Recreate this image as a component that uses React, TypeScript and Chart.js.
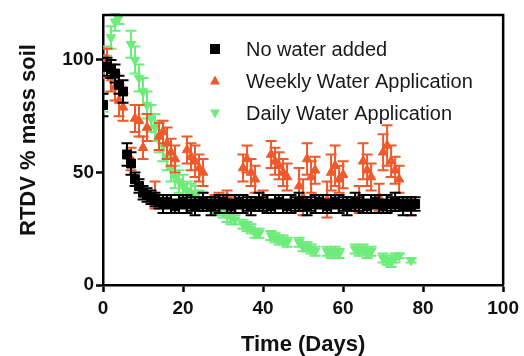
import React, { useEffect, useRef } from 'react';
import { Chart, registerables } from 'chart.js';

Chart.register(...registerables);

// ---------- data ----------
const noWaterDays = [
  0, 1, 2, 3, 4, 5, 6, 7, 8, 9, 10, 11, 12, 13, 14, 15, 16, 17, 18, 19,
  20, 21, 22, 23, 24, 25, 26, 27, 28, 29, 30, 31, 32, 33, 34, 35, 36, 37, 38, 39,
  40, 41, 42, 43, 44, 45, 46, 47, 48, 49, 50, 51, 52, 53, 54, 55, 56, 57, 58, 59,
  60, 61, 62, 63, 64, 65, 66, 67, 68, 69, 70, 71, 72, 73, 74, 75, 76, 77, 78,
];
const noWaterValues = [
  80, 97, 96, 94, 89, 86, 58, 54, 47, 44, 41, 40, 39, 38, 37, 36, 37, 36, 35, 36,
  37, 36, 36, 35, 36, 37, 36, 35, 36, 36, 37, 36, 35, 36, 37, 36, 36, 35, 36, 37,
  36, 36, 35, 36, 37, 36, 35, 36, 36, 37, 36, 35, 36, 36, 37, 36, 35, 36, 37, 36,
  36, 35, 36, 37, 36, 36, 35, 36, 37, 36, 35, 36, 36, 37, 36, 35, 36, 35, 36,
];
const noWaterErrors = [
  5, 4, 4, 4, 4, 5, 5, 5, 3, 3, 3, 3, 3, 3, 3, 4, 3, 4, 3, 4,
  3, 4, 3, 4, 3, 4, 3, 4, 3, 4, 3, 4, 3, 4, 3, 4, 3, 4, 3, 4,
  3, 4, 3, 4, 3, 4, 3, 4, 3, 4, 3, 4, 3, 4, 3, 4, 3, 4, 3, 4,
  3, 4, 3, 4, 3, 4, 3, 4, 3, 4, 3, 4, 3, 4, 3, 4, 3, 4, 3,
];

const weeklyDays = [
  0, 1, 2, 3, 4, 5, 7, 8, 9, 10, 11, 13, 14, 15, 16, 17, 18, 21, 22, 23, 24, 25,
  28, 29, 30, 31, 32, 35, 36, 37, 38, 40, 42, 43, 44, 45, 46, 49, 50, 51, 52, 53,
  56, 57, 58, 59, 60, 64, 65, 66, 67, 69, 70, 71, 72, 73, 74, 77,
];
const weeklyValues = [
  97, 100, 92, 88, 82, 79, 56, 74, 73, 61, 70, 40, 66, 68, 63, 59, 56, 60, 57, 55, 52, 50,
  37, 38, 37, 39, 36, 52, 56, 50, 47, 38, 58, 55, 53, 50, 48, 44, 39, 56, 48, 51,
  38, 50, 53, 47, 49, 38, 55, 51, 48, 39, 59, 62, 55, 51, 47, 35,
];
const weeklyErrors = [
  5, 5, 6, 6, 7, 6, 5, 6, 7, 5, 6, 6, 6, 5, 7, 6, 6, 6, 6, 7, 6, 6,
  3, 3, 3, 3, 3, 6, 6, 6, 6, 4, 6, 6, 6, 6, 6, 8, 8, 7, 7, 6,
  8, 8, 9, 6, 6, 6, 8, 7, 6, 6, 8, 9, 7, 6, 6, 4,
];

const dailyDays = [
  0, 1, 2, 3, 4, 7, 8, 9, 10, 11, 12, 13, 14, 15, 16, 17, 18, 19, 20, 21, 22, 23,
  24, 25, 26, 27, 28, 29, 30, 31, 32, 33, 35, 36, 37, 38, 39, 42, 43, 44, 45, 46,
  49, 50, 51, 52, 53, 56, 57, 58, 59, 63, 64, 65, 66, 67, 70, 71, 72, 73, 74, 77,
];
const dailyValues = [
  81, 101, 110, 117, 119, 107, 100, 92, 86, 80, 74, 70, 66, 62, 57, 52, 48, 46, 44, 42, 41, 40,
  38, 37, 36, 36, 35, 34, 33, 31, 30, 29, 27, 26, 25, 23, 23, 22, 21, 20, 20, 19,
  19, 17, 17, 16, 15, 15, 14, 15, 14, 16, 15, 16, 14, 15, 12, 11, 10, 12, 13, 11,
];
const dailyErrors = [
  4, 5, 5, 4, 3, 6, 6, 6, 6, 6, 6, 6, 7, 7, 6, 6, 5, 5, 5, 4, 4, 4,
  4, 4, 3, 3, 3, 3, 3, 3, 3, 2, 2, 2, 2, 2, 2, 2, 2, 2, 2, 2,
  2, 2, 2, 2, 2, 2, 2, 2, 2, 2, 2, 2, 2, 2, 2, 2, 2, 2, 1, 1,
];

const seriesNames = ['No water added', 'Weekly Water Application', 'Daily Water Application'];
const xTickValues = [0, 20, 40, 60, 80, 100];
const yTickValues = [0, 50, 100];
const xTitle = 'Time (Days)';
const yTitle = 'RTDV % mass soil';

// ---------- styles ----------
const BLACK = '#000000';
const ORANGE = '#F0592B';
const GREEN = '#6EEC7B';
const FONT = "'Liberation Sans', Arial, Helvetica, sans-serif";

const toPoints = (xs: number[], ys: number[]) => xs.map((x, i) => ({ x, y: ys[i] }));

const errorBarPlugin = {
  id: 'errorBars',
  beforeDatasetDraw(chart: any, args: any) {
    const ds = chart.data.datasets[args.index];
    const errs: number[] = ds.errors;
    if (!errs) return;
    const { ctx, chartArea } = chart;
    const yScale = chart.scales.y;
    ctx.save();
    ctx.beginPath();
    ctx.rect(chartArea.left, chartArea.top - 2, chartArea.right - chartArea.left, chartArea.bottom - chartArea.top + 2);
    ctx.clip();
    ctx.strokeStyle = ds.borderColor;
    ctx.lineWidth = 2;
    const cap = 5.5;
    args.meta.data.forEach((pt: any, i: number) => {
      const v = ds.data[i].y;
      const e = errs[i];
      const yt = yScale.getPixelForValue(v + e);
      const yb = yScale.getPixelForValue(v - e);
      ctx.beginPath();
      ctx.moveTo(pt.x, yt);
      ctx.lineTo(pt.x, yb);
      ctx.moveTo(pt.x - cap, yt);
      ctx.lineTo(pt.x + cap, yt);
      ctx.moveTo(pt.x - cap, yb);
      ctx.lineTo(pt.x + cap, yb);
      ctx.stroke();
    });
    ctx.restore();
  },
};

const framePlugin = {
  id: 'frameAndText',
  afterDraw(chart: any) {
    const { ctx, chartArea } = chart;
    const { left, right, top, bottom } = chartArea;
    ctx.save();
    // top and right frame
    ctx.strokeStyle = '#000';
    ctx.lineWidth = 2.5;
    ctx.beginPath();
    ctx.moveTo(left, top);
    ctx.lineTo(right, top);
    ctx.lineTo(right, bottom);
    ctx.stroke();

    // axis titles
    ctx.fillStyle = '#111';
    ctx.font = `bold 22px ${FONT}`;
    ctx.textAlign = 'center';
    ctx.textBaseline = 'middle';
    ctx.fillText(xTitle, (left + right) / 2, 345);
    ctx.save();
    ctx.translate(29, 140);
    ctx.rotate(-Math.PI / 2);
    ctx.fillText(yTitle, 0, 0);
    ctx.restore();

    // legend
    const colors = [BLACK, ORANGE, GREEN];
    const mx = left + 112;
    const tx = left + 143;
    ctx.font = `20px ${FONT}`;
    ctx.textAlign = 'left';
    seriesNames.forEach((name, i) => {
      const cy = top + 34 + i * 32;
      ctx.fillStyle = colors[i];
      ctx.beginPath();
      if (i === 0) {
        ctx.rect(mx - 5, cy - 5, 10, 10);
      } else if (i === 1) {
        ctx.moveTo(mx, cy - 5.5);
        ctx.lineTo(mx + 5, cy + 3.5);
        ctx.lineTo(mx - 5, cy + 3.5);
        ctx.closePath();
      } else {
        ctx.moveTo(mx, cy + 5.5);
        ctx.lineTo(mx + 5, cy - 3.5);
        ctx.lineTo(mx - 5, cy - 3.5);
        ctx.closePath();
      }
      ctx.fill();
      ctx.fillStyle = '#1a1a1a';
      ctx.fillText(name, tx, cy + 1);
    });
    ctx.restore();
  },
};

export default function App() {
  const ref = useRef<HTMLCanvasElement>(null);

  useEffect(() => {
    const canvas = ref.current;
    if (!canvas) return;
    const common = { showLine: false, pointBorderWidth: 1 };
    const chart = new Chart(canvas, {
      type: 'scatter',
      data: {
        datasets: [
          {
            ...common,
            label: seriesNames[0],
            data: toPoints(noWaterDays, noWaterValues),
            errors: noWaterErrors,
            backgroundColor: BLACK,
            borderColor: BLACK,
            pointStyle: 'rect',
            pointRadius: 6.3,
          } as any,
          {
            ...common,
            label: seriesNames[1],
            data: toPoints(weeklyDays, weeklyValues),
            errors: weeklyErrors,
            backgroundColor: ORANGE,
            borderColor: ORANGE,
            pointStyle: 'triangle',
            pointRadius: 5.5,
          } as any,
          {
            ...common,
            label: seriesNames[2],
            data: toPoints(dailyDays, dailyValues),
            errors: dailyErrors,
            backgroundColor: GREEN,
            borderColor: GREEN,
            pointStyle: 'triangle',
            pointRotation: 180,
            pointRadius: 5.5,
          } as any,
        ],
      },
      options: {
        animation: false,
        responsive: false,
        devicePixelRatio: 1,
        layout: { padding: { top: 15, right: 16, left: 0, bottom: 0 } },
        plugins: {
          legend: { display: false },
          tooltip: { enabled: false },
        },
        scales: {
          x: {
            type: 'linear',
            min: 0,
            max: 100,
            afterBuildTicks: (scale: any) => {
              scale.ticks = xTickValues.map((v) => ({ value: v }));
            },
            afterFit: (scale: any) => {
              scale.height = 71;
            },
            grid: {
              drawOnChartArea: false,
              drawTicks: true,
              tickLength: 7,
              tickWidth: 2.5,
              tickColor: '#000',
            },
            border: { display: true, color: '#000', width: 2.5 },
            ticks: {
              color: '#111',
              padding: 5,
              maxRotation: 0,
              font: { family: FONT, size: 19, weight: 'bold' },
            },
          },
          y: {
            type: 'linear',
            min: 0,
            max: 120,
            afterBuildTicks: (scale: any) => {
              scale.ticks = yTickValues.map((v) => ({ value: v }));
            },
            afterFit: (scale: any) => {
              scale.width = 103;
            },
            grid: {
              drawOnChartArea: false,
              drawTicks: true,
              tickLength: 7,
              tickWidth: 2.5,
              tickColor: '#000',
            },
            border: { display: true, color: '#000', width: 2.5 },
            ticks: {
              color: '#111',
              padding: 2,
              font: { family: FONT, size: 19, weight: 'bold' },
            },
          },
        },
      },
      plugins: [errorBarPlugin, framePlugin],
    } as any);
    return () => chart.destroy();
  }, []);

  return (
    <div style={{ position: 'absolute', left: 0, top: 0, width: 524, height: 356, background: '#fff' }}>
      <canvas ref={ref} width={524} height={356} style={{ display: 'block', width: 524, height: 356 }} />
    </div>
  );
}
